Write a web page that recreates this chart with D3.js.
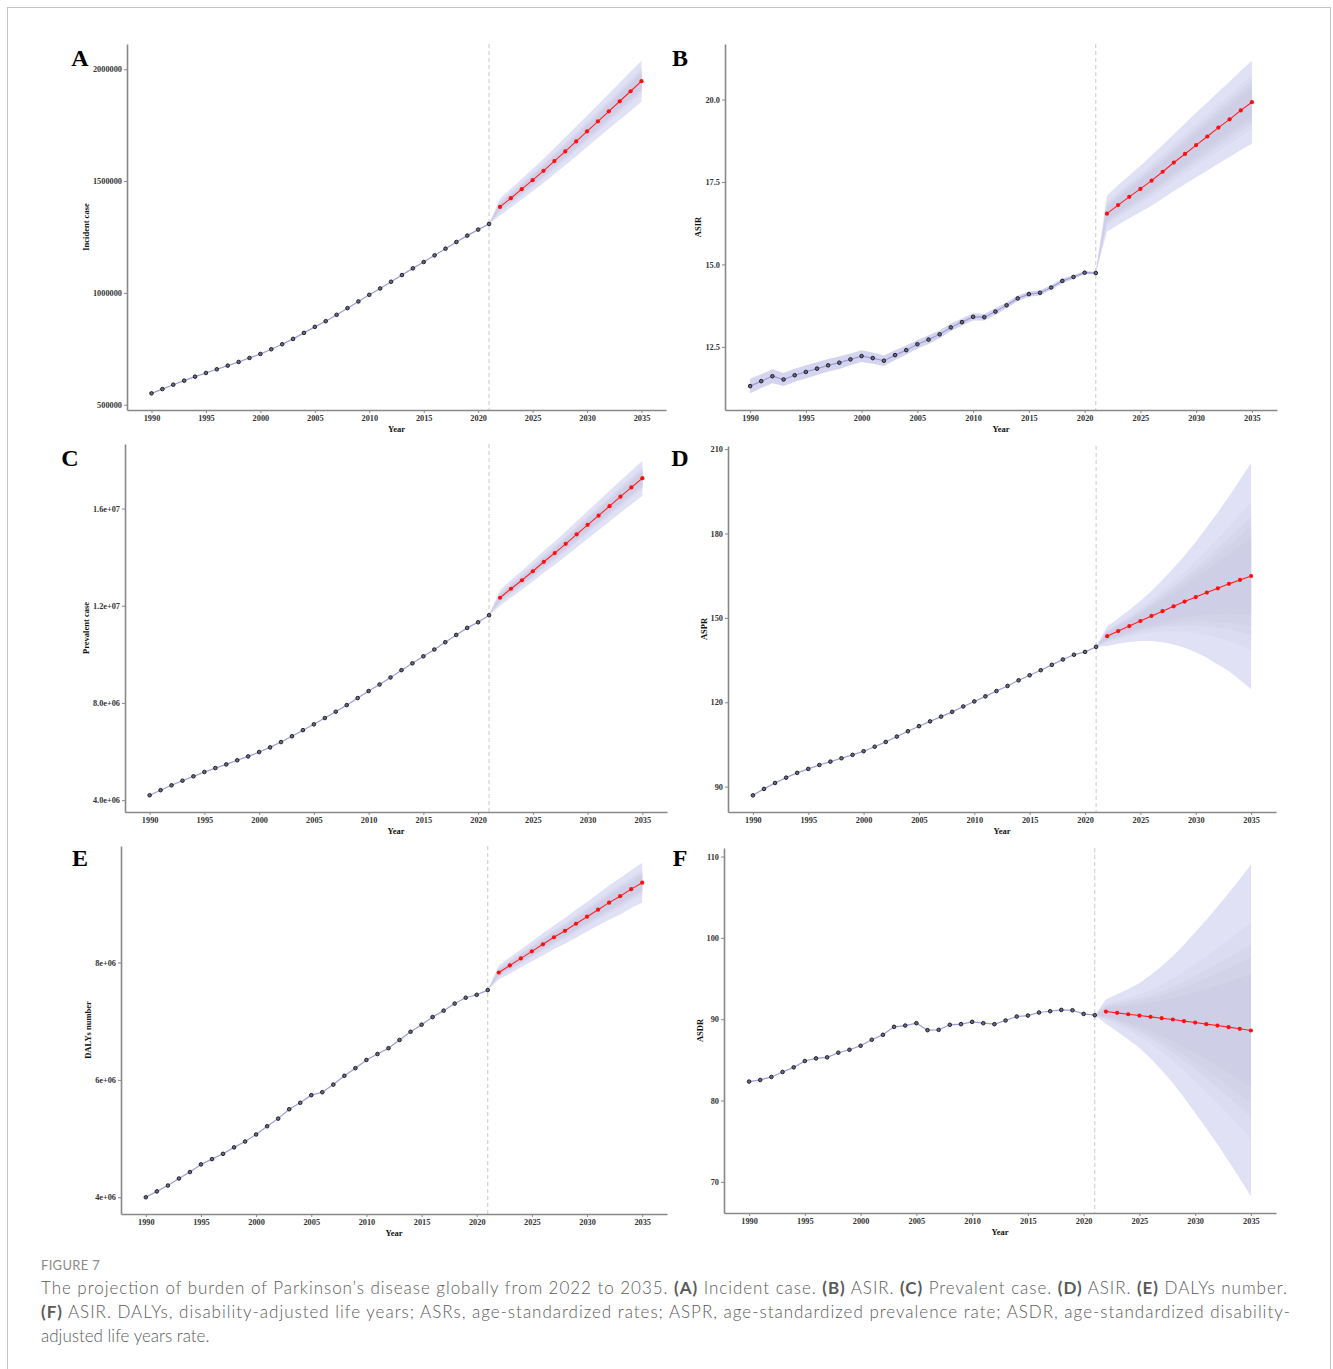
<!DOCTYPE html>
<html lang="en">
<head>
<meta charset="UTF-8">
<title>Figure 7 - projection of burden of Parkinson's disease</title>
<script src="https://cdn.jsdelivr.net/npm/d3@7"></script>
<style>
  body { margin: 0; background: #fff; }
  .axis text { font-family: "Liberation Serif", "DejaVu Serif", serif; font-weight: bold; font-size: 8.3px; fill: #333; }
  .axis path, .axis line { stroke: #888; }
  .axis path { stroke-width: 1.6; }
  .axis-title { font-family: "Liberation Serif", serif; font-weight: bold; font-size: 8.5px; fill: #111; }
  .panel-letter { font-family: "Liberation Serif", serif; font-weight: bold; font-size: 24px; fill: #000; }
  .caption { font-family: Lato, "Open Sans", sans-serif; fill: #5a5a5a; }
</style>
</head>
<body>
<svg id="fig" width="1333" height="1369"></svg>
<script>
// years
const histYears = [1990, 1991, 1992, 1993, 1994, 1995, 1996, 1997, 1998, 1999, 2000, 2001, 2002, 2003, 2004, 2005,
                   2006, 2007, 2008, 2009, 2010, 2011, 2012, 2013, 2014, 2015, 2016, 2017, 2018, 2019, 2020, 2021];
const foreYears = [2022, 2023, 2024, 2025, 2026, 2027, 2028, 2029, 2030, 2031, 2032, 2033, 2034, 2035];
const yearTicks = [1990, 1995, 2000, 2005, 2010, 2015, 2020, 2025, 2030, 2035];

// A - incident case
const incidentHist = [550800, 570000, 589600, 607600, 625500, 641900, 658400, 674800, 691200, 709200, 727100, 748000,
  770400, 794300, 821200, 848100, 873500, 901900, 931800, 961700, 991500, 1019900, 1049800, 1079700, 1109600, 1138000,
  1167800, 1197700, 1227600, 1256000, 1282900, 1308300];
const incidentFore = [1384500, 1423300, 1463700, 1504000, 1545800, 1589200, 1632500, 1677300, 1722100, 1767000,
  1811800, 1856600, 1901400, 1946300];
const incidentHalf = [38000, 42000, 46000, 50000, 54000, 58000, 62000, 66000, 70000, 74000, 78000, 83000, 88000, 92000];
const incidentTicks = [500000, 1000000, 1500000, 2000000];
const incidentTickLabels = ["500000", "1000000", "1500000", "2000000"];

// B - ASIR
const asirHist = [11.31, 11.46, 11.61, 11.51, 11.64, 11.74, 11.84, 11.94, 12.02, 12.12, 12.22, 12.16, 12.08, 12.25,
  12.40, 12.58, 12.72, 12.88, 13.09, 13.25, 13.41, 13.40, 13.57, 13.76, 13.97, 14.10, 14.14, 14.30, 14.50, 14.62,
  14.75, 14.74];
const asirHistHalf = [0.22, 0.21, 0.21, 0.2, 0.2, 0.2, 0.19, 0.19, 0.19, 0.18, 0.18, 0.17, 0.16, 0.15, 0.14, 0.13,
  0.13, 0.12, 0.12, 0.11, 0.11, 0.1, 0.1, 0.09, 0.09, 0.08, 0.08, 0.07, 0.07, 0.06, 0.05, 0.04];
const asirFore = [16.54, 16.80, 17.05, 17.29, 17.54, 17.81, 18.09, 18.35, 18.62, 18.88, 19.15, 19.40, 19.67, 19.92];
const asirHalf = [0.55, 0.60, 0.65, 0.70, 0.76, 0.81, 0.86, 0.92, 0.98, 1.03, 1.09, 1.14, 1.20, 1.26];
const asirTicks = [12.5, 15, 17.5, 20];
const asirTickLabels = ["12.5", "15.0", "17.5", "20.0"];

// C - prevalent case
const prevalentHist = [4.20e6, 4.41e6, 4.61e6, 4.80e6, 4.98e6, 5.16e6, 5.32e6, 5.47e6, 5.64e6, 5.80e6, 5.98e6, 6.17e6,
  6.39e6, 6.63e6, 6.88e6, 7.12e6, 7.38e6, 7.64e6, 7.91e6, 8.20e6, 8.49e6, 8.76e6, 9.05e6, 9.35e6, 9.63e6, 9.92e6,
  10.20e6, 10.50e6, 10.80e6, 11.09e6, 11.32e6, 11.61e6];
const prevalentFore = [12.33e6, 12.70e6, 13.05e6, 13.42e6, 13.81e6, 14.17e6, 14.55e6, 14.94e6, 15.33e6, 15.71e6,
  16.10e6, 16.49e6, 16.87e6, 17.25e6];
const prevalentHalf = [0.33e6, 0.36e6, 0.39e6, 0.42e6, 0.45e6, 0.48e6, 0.51e6, 0.54e6, 0.57e6, 0.60e6, 0.63e6,
  0.66e6, 0.69e6, 0.72e6];
const prevalentTicks = [4e6, 8e6, 12e6, 16e6];
const prevalentTickLabels = ["4.0e+06", "8.0e+06", "1.2e+07", "1.6e+07"];

// D - ASPR
const asprHist = [86.9, 89.2, 91.3, 93.2, 94.9, 96.3, 97.7, 98.9, 100.1, 101.3, 102.6, 104.2, 105.9, 107.8, 109.7,
  111.5, 113.2, 114.9, 116.6, 118.5, 120.3, 122.1, 124.0, 125.8, 127.8, 129.6, 131.4, 133.3, 135.2, 136.9, 137.9, 139.7];
const asprFore = [143.5, 145.3, 147.1, 148.9, 150.7, 152.4, 154.1, 155.8, 157.4, 159.0, 160.5, 162.1, 163.5, 164.9];
const asprHalf = [3.5, 4.5, 5.7, 7.1, 8.9, 11.1, 13.6, 16.4, 19.6, 23.2, 27.1, 31.1, 35.6, 40.3];
const asprTicks = [90, 120, 150, 180, 210];
const asprTickLabels = ["90", "120", "150", "180", "210"];

// E - DALYs number
const dalysHist = [4.00e6, 4.10e6, 4.20e6, 4.32e6, 4.43e6, 4.56e6, 4.65e6, 4.74e6, 4.85e6, 4.95e6, 5.07e6, 5.21e6,
  5.34e6, 5.50e6, 5.61e6, 5.74e6, 5.79e6, 5.92e6, 6.07e6, 6.20e6, 6.34e6, 6.44e6, 6.54e6, 6.68e6, 6.82e6, 6.94e6,
  7.07e6, 7.18e6, 7.30e6, 7.40e6, 7.45e6, 7.53e6];
const dalysFore = [7.83e6, 7.95e6, 8.07e6, 8.19e6, 8.31e6, 8.43e6, 8.54e6, 8.66e6, 8.78e6, 8.90e6, 9.02e6, 9.13e6,
  9.25e6, 9.36e6];
const dalysHalf = [0.12e6, 0.14e6, 0.15e6, 0.17e6, 0.19e6, 0.20e6, 0.22e6, 0.24e6, 0.25e6, 0.27e6, 0.29e6, 0.31e6,
  0.32e6, 0.34e6];
const dalysTicks = [4e6, 6e6, 8e6];
const dalysTickLabels = ["4e+06", "6e+06", "8e+06"];

// F - ASDR
const asdrHist = [82.33, 82.53, 82.90, 83.51, 84.08, 84.86, 85.18, 85.31, 85.88, 86.24, 86.73, 87.47, 88.08, 89.06,
  89.22, 89.51, 88.65, 88.69, 89.31, 89.39, 89.67, 89.51, 89.39, 89.84, 90.33, 90.45, 90.82, 90.98, 91.14, 91.10,
  90.65, 90.49];
const asdrFore = [90.94, 90.78, 90.61, 90.45, 90.29, 90.12, 89.96, 89.76, 89.59, 89.39, 89.22, 89.02, 88.82, 88.61];
const asdrHalf = [1.5, 2.3, 3.1, 4.0, 5.1, 6.4, 7.8, 9.4, 11.1, 12.8, 14.6, 16.5, 18.4, 20.4];
const asdrTicks = [70, 80, 90, 100, 110];
const asdrTickLabels = ["70", "80", "90", "100", "110"];

// share of the outer interval used by each nested band (outer -> inner)
const bandLevels = [1, 0.65, 0.52, 0.44, 0.34];

const bandFills = ["#e1e1f6", "#dbdbf1", "#d6d6ed", "#d2d2e9", "#cecee6"];

const panels = [
  { letter: "A", title: "Incident case", hist: incidentHist, fore: incidentFore, half: incidentHalf, histHalf: null,
    ticks: incidentTicks, tickLabels: incidentTickLabels, box: { left: 127, right: 666, top: 44, bottom: 410 }, lx: 80, ly: 66 },
  { letter: "B", title: "ASIR", hist: asirHist, fore: asirFore, half: asirHalf, histHalf: asirHistHalf,
    ticks: asirTicks, tickLabels: asirTickLabels, box: { left: 725, right: 1277, top: 44, bottom: 410 }, lx: 680, ly: 66 },
  { letter: "C", title: "Prevalent case", hist: prevalentHist, fore: prevalentFore, half: prevalentHalf, histHalf: null,
    ticks: prevalentTicks, tickLabels: prevalentTickLabels, box: { left: 125, right: 667, top: 444, bottom: 812 }, lx: 70, ly: 466 },
  { letter: "D", title: "ASPR", hist: asprHist, fore: asprFore, half: asprHalf, histHalf: null,
    ticks: asprTicks, tickLabels: asprTickLabels, box: { left: 728, right: 1276, top: 446, bottom: 812 }, lx: 680, ly: 466 },
  { letter: "E", title: "DALYs number", hist: dalysHist, fore: dalysFore, half: dalysHalf, histHalf: null,
    ticks: dalysTicks, tickLabels: dalysTickLabels, box: { left: 121, right: 667, top: 846, bottom: 1214 }, lx: 80, ly: 866 },
  { letter: "F", title: "ASDR", hist: asdrHist, fore: asdrFore, half: asdrHalf, histHalf: null,
    ticks: asdrTicks, tickLabels: asdrTickLabels, box: { left: 724, right: 1276, top: 848, bottom: 1213 }, lx: 680, ly: 866 }
];

const svg = d3.select("#fig");

// light frame round the figure
svg.append("rect")
  .attr("x", 7.5).attr("y", 7.5)
  .attr("width", 1323).attr("height", 1400)
  .attr("fill", "none").attr("stroke", "#c4c4c4");

panels.forEach(p => {
  const b = p.box;
  const g = svg.append("g");

  // x: ggplot-like 5% expansion
  const xPad = (2035 - 1990) * 0.05;
  const x = d3.scaleLinear().domain([1990 - xPad, 2035 + xPad]).range([b.left, b.right]);

  const lastYear = histYears[histYears.length - 1];
  const lastVal = p.hist[p.hist.length - 1];
  // forecast rows incl. the joining point at 2021
  const fRows = [{ year: lastYear, v: lastVal, h: 0 }].concat(
    foreYears.map((yr, i) => ({ year: yr, v: p.fore[i], h: p.half[i] })));
  const hRows = histYears.map((yr, i) => ({ year: yr, v: p.hist[i], h: p.histHalf ? p.histHalf[i] : 0 }));

  const allVals = [];
  hRows.concat(fRows).forEach(r => { allVals.push(r.v - r.h, r.v + r.h); });
  const ext = d3.extent(allVals);
  const yPad = (ext[1] - ext[0]) * 0.05;
  const y = d3.scaleLinear().domain([ext[0] - yPad, ext[1] + yPad]).range([b.bottom, b.top]);

  // dashed reference line at last observed year
  g.append("line")
    .attr("x1", x(lastYear)).attr("x2", x(lastYear))
    .attr("y1", b.top).attr("y2", b.bottom)
    .attr("stroke", "#c9c9c9").attr("stroke-width", 1)
    .attr("stroke-dasharray", "4,3");

  // historical band
  if (p.histHalf) {
    g.append("path")
      .datum(hRows)
      .attr("fill", "#d4d4ef")
      .attr("d", d3.area().x(d => x(d.year)).y0(d => y(d.v - d.h)).y1(d => y(d.v + d.h)));
  }

  // forecast bands, outer first
  bandLevels.forEach((k, li) => {
    g.append("path")
      .datum(fRows)
      .attr("fill", bandFills[li])
      .attr("d", d3.area().x(d => x(d.year)).y0(d => y(d.v - k * d.h)).y1(d => y(d.v + k * d.h)));
  });

  // historical line + points
  g.append("path")
    .datum(hRows)
    .attr("fill", "none").attr("stroke", "#9c9cd8").attr("stroke-width", 1.2)
    .attr("d", d3.line().x(d => x(d.year)).y(d => y(d.v)));

  g.selectAll(".hpt").data(hRows).enter().append("circle")
    .attr("class", "hpt")
    .attr("cx", d => x(d.year)).attr("cy", d => y(d.v))
    .attr("r", 1.8)
    .attr("fill", "#6a6a80").attr("stroke", "#111118").attr("stroke-width", 0.9);

  // forecast line + points
  const fOnly = fRows.slice(1);
  g.append("path")
    .datum(fOnly)
    .attr("fill", "none").attr("stroke", "#ff2020").attr("stroke-width", 1.1)
    .attr("d", d3.line().x(d => x(d.year)).y(d => y(d.v)));

  g.selectAll(".fpt").data(fOnly).enter().append("circle")
    .attr("class", "fpt")
    .attr("cx", d => x(d.year)).attr("cy", d => y(d.v))
    .attr("r", 2.1)
    .attr("fill", "#ff1010");

  // axes
  g.append("g")
    .attr("class", "axis")
    .attr("transform", "translate(0," + b.bottom + ")")
    .call(d3.axisBottom(x).tickValues(yearTicks).tickFormat(d3.format("d")).tickSize(3).tickSizeOuter(0).tickPadding(2));

  const yAxis = g.append("g")
    .attr("class", "axis")
    .attr("transform", "translate(" + b.left + ",0)")
    .call(d3.axisLeft(y).tickValues(p.ticks).tickFormat((d, i) => p.tickLabels[i]).tickSize(3).tickSizeOuter(0).tickPadding(2));

  let maxW = 0;
  yAxis.selectAll(".tick text").each(function () { maxW = Math.max(maxW, this.getBBox().width); });

  // axis titles
  g.append("text")
    .attr("class", "axis-title")
    .attr("x", (b.left + b.right) / 2)
    .attr("y", b.bottom + 22)
    .attr("text-anchor", "middle")
    .text("Year");

  const tx = b.left - 5 - maxW - 4;
  const ty = (b.top + b.bottom) / 2;
  g.append("text")
    .attr("class", "axis-title")
    .attr("transform", "translate(" + tx + "," + ty + ") rotate(-90)")
    .attr("text-anchor", "middle")
    .text(p.title);

  g.append("text")
    .attr("class", "panel-letter")
    .attr("x", p.lx).attr("y", p.ly)
    .attr("text-anchor", "middle")
    .text(p.letter);
});

// caption
const cap = svg.append("g").attr("class", "caption");
cap.append("text")
  .attr("x", 41).attr("y", 1270)
  .attr("font-size", 13).attr("fill", "#8a8a8a")
  .attr("letter-spacing", 0.3)
  .text("FIGURE 7");

const capLines = [
  { y: 1294, len: 1246, parts: [
    ["The projection of burden of Parkinson’s disease globally from 2022 to 2035. ", false], ["(A)", true],
    [" Incident case. ", false], ["(B)", true], [" ASIR. ", false], ["(C)", true], [" Prevalent case. ", false],
    ["(D)", true], [" ASIR. ", false], ["(E)", true], [" DALYs number.", false]] },
  { y: 1318, len: 1249, parts: [
    ["(F)", true], [" ASIR. DALYs, disability-adjusted life years; ASRs, age-standardized rates; ASPR, age-standardized prevalence rate; ASDR, age-standardized disability-", false]] },
  { y: 1342, len: null, parts: [["adjusted life years rate.", false]] }
];

capLines.forEach(l => {
  const t = cap.append("text")
    .attr("x", 41).attr("y", l.y)
    .attr("font-size", 17);
  if (l.len) t.attr("textLength", l.len).attr("lengthAdjust", "spacing");
  l.parts.forEach(pt => {
    t.append("tspan")
      .attr("font-weight", pt[1] ? 700 : 300)
      .text(pt[0]);
  });
});
</script>
</body>
</html>
